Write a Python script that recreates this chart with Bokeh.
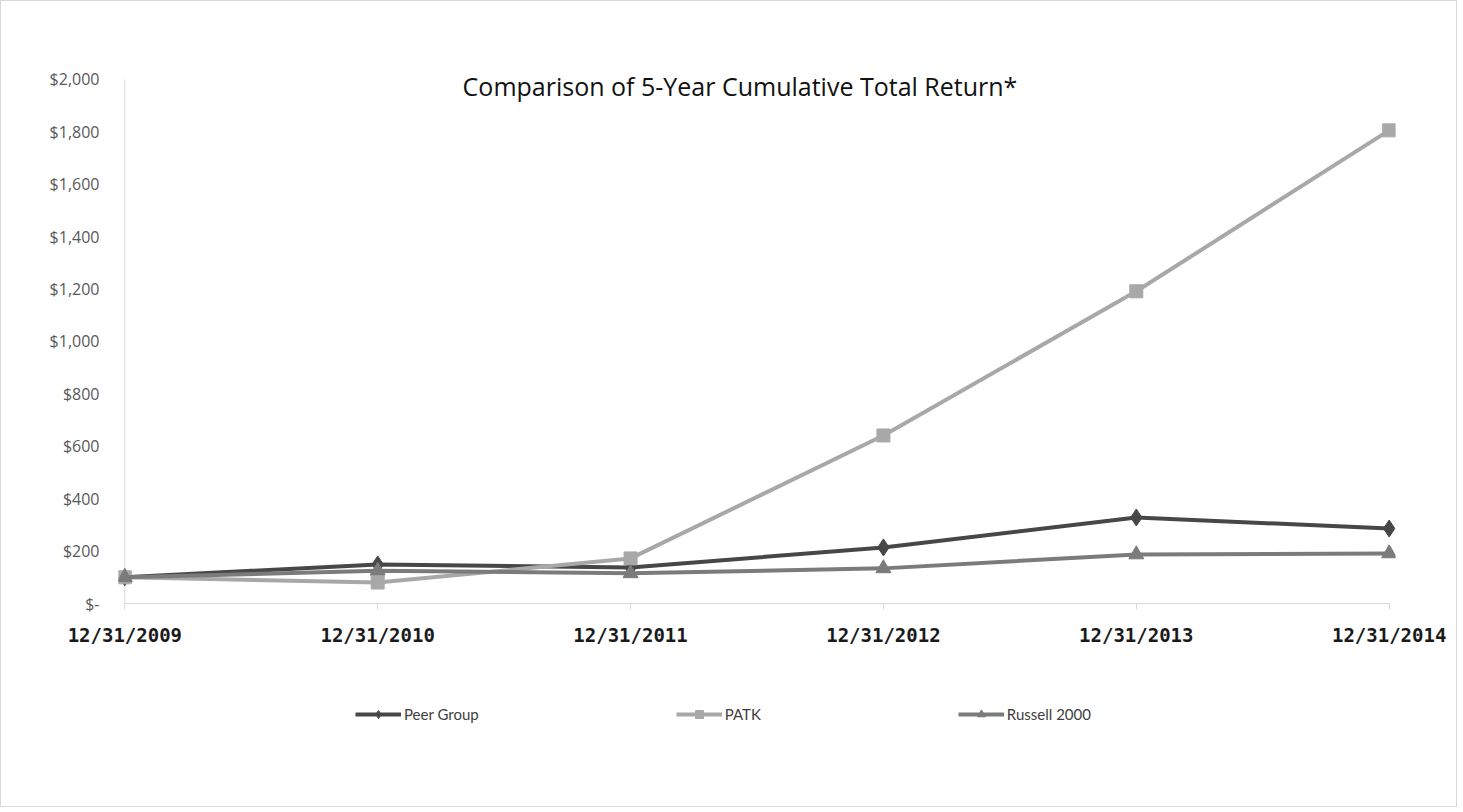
from bokeh.plotting import figure
from bokeh.layouts import column
from bokeh.models import Range1d, FixedTicker, Legend, LegendItem, Label, CustomJSTickFormatter
from bokeh.embed import file_html
from bokeh.resources import INLINE

dates = ["12/31/2009", "12/31/2010", "12/31/2011", "12/31/2012", "12/31/2013", "12/31/2014"]
peer_group = [100, 149, 137, 214, 328, 286]
patk = [100, 80, 172, 641, 1191, 1805]
russell_2000 = [100, 125, 115, 134, 187, 191]
y_ticks = [0, 200, 400, 600, 800, 1000, 1200, 1400, 1600, 1800, 2000]
title_text = "Comparison of 5-Year Cumulative Total Return*"
series_names = ["Peer Group", "PATK", "Russell 2000"]

xs = list(range(len(dates)))
FONT = "Open Sans"

W = 1455
PAD = 0.025
Y_TOP = 2060  # headroom above $2,000 so the title is not clipped
p = figure(width=W, height=660, output_backend="svg", toolbar_location=None,
           x_range=Range1d(-PAD, len(dates) - 1 + PAD), y_range=Range1d(0, Y_TOP))
p.min_border_left = 117
p.min_border_right = W - 1394
p.min_border_top = 62
p.min_border_bottom = 58
p.outline_line_color = None
p.background_fill_color = "white"
p.border_fill_color = "white"
p.grid.visible = False

c_peer = "#474747"
c_patk = "#a8a8a8"
c_rus = "#7b7b7b"

styles = [
    dict(color=c_peer, marker="diamond", size=17),
    dict(color=c_patk, marker="square", size=13),
    dict(color=c_rus, marker="triangle", size=15),
]

# y axis line at x = 0, spanning the tick range
p.segment(x0=[xs[0]], y0=[y_ticks[0]], x1=[xs[0]], y1=[y_ticks[-1]],
          line_color="#d9d9d9", line_width=1)

for vals, st in zip([peer_group, patk, russell_2000], styles):
    p.line(xs, vals, line_color=st["color"], line_width=4)
    p.scatter(xs, vals, marker=st["marker"], size=st["size"], color=st["color"])

# x axis
xa = p.xaxis[0]
xa.ticker = FixedTicker(ticks=xs)
xa.major_label_overrides = {i: d for i, d in enumerate(dates)}
xa.bounds = (0, len(dates) - 1)
xa.axis_line_color = "#d9d9d9"
xa.axis_line_width = 1
xa.major_tick_line_color = "#d9d9d9"
xa.major_tick_out = 6
xa.major_tick_in = 0
xa.minor_tick_line_color = None
xa.major_label_text_font = "DejaVu Sans Mono"
xa.major_label_text_font_style = "bold"
xa.major_label_text_font_size = "19px"
xa.major_label_text_color = "#1a1a1a"
xa.major_label_standoff = 14

# y axis
ya = p.yaxis[0]
ya.ticker = FixedTicker(ticks=y_ticks)
ya.formatter = CustomJSTickFormatter(code="""
    if (tick == 0) { return '$-'; }
    return '$' + tick.toLocaleString('en-US');
""")
ya.axis_line_color = None
ya.major_tick_line_color = None
ya.minor_tick_line_color = None
ya.major_label_text_font = FONT
ya.major_label_text_font_size = "16px"
ya.major_label_text_color = "#595959"
ya.major_label_standoff = 13

title = Label(x=(len(dates) - 1) / 2, y=y_ticks[-1], text=title_text, text_align="center",
              text_baseline="middle", x_offset=-17, y_offset=-7, text_font=FONT,
              text_font_size="25px", text_color="#111111")
p.add_layout(title)

# legend strip below the chart
LH = 145
p2 = figure(width=W, height=LH, output_backend="svg", toolbar_location=None,
            x_axis_type=None, y_axis_type=None, x_range=Range1d(0, 1), y_range=Range1d(0, 1))
p2.min_border_left = 0
p2.min_border_right = 0
p2.min_border_top = 0
p2.min_border_bottom = 0
p2.outline_line_color = None
p2.grid.visible = False
p2.background_fill_color = "white"
p2.border_fill_color = "white"

items = []
for name, st in zip(series_names, styles):
    # off-screen proxies, used only to draw the legend swatches
    ln = p2.line([-5, -4], [-5, -5], line_color=st["color"], line_width=4)
    mk = p2.scatter([-5], [-5], marker=st["marker"], size=st["size"], color=st["color"])
    items.append(LegendItem(label=name, renderers=[ln, mk]))

legend = Legend(items=items, orientation="horizontal", location=(237, LH - 63))
legend.border_line_color = None
legend.background_fill_alpha = 0
legend.spacing = 197
legend.glyph_width = 46
legend.glyph_height = 20
legend.label_standoff = 3
legend.padding = 0
legend.margin = 0
legend.label_text_font = "Lato"
legend.label_text_font_size = "15px"
legend.label_text_color = "#404040"
p2.add_layout(legend)

layout = column(p, p2, spacing=0, styles={"border": "1px solid #d9d9d9"})

open("out.html", "w").write(file_html(layout, INLINE))
